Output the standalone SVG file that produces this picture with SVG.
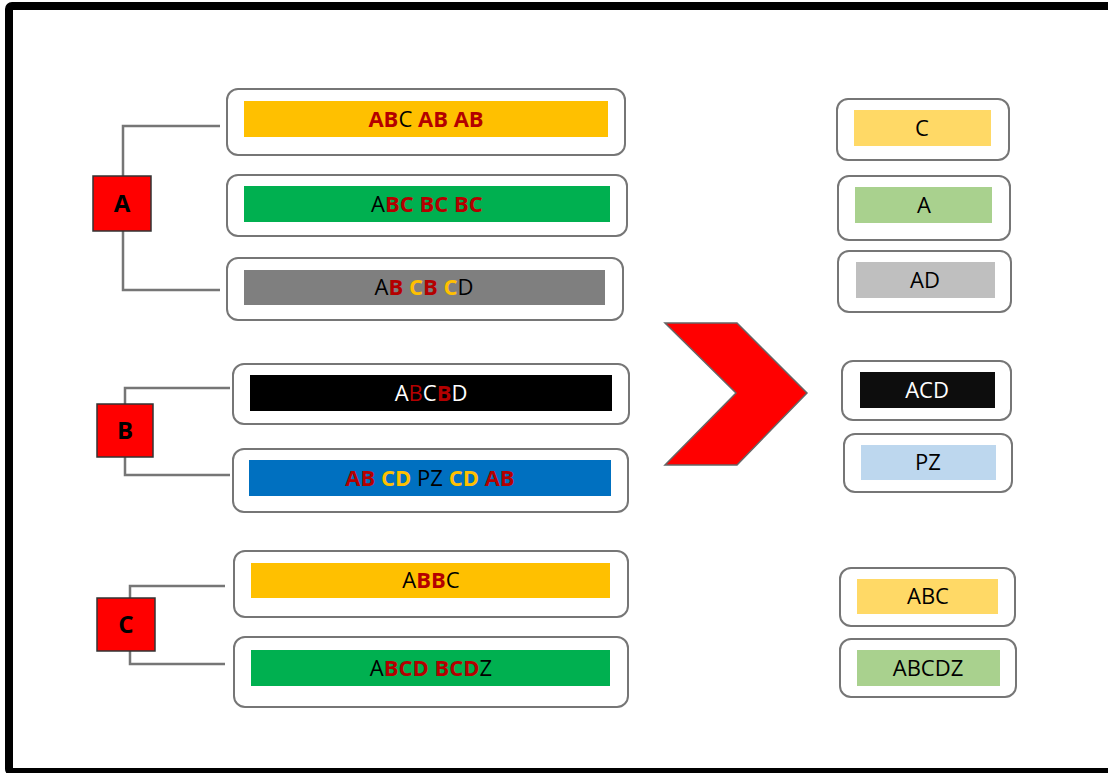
<svg xmlns="http://www.w3.org/2000/svg" width="1108" height="773" viewBox="0 0 1108 773">
<style>
.frame{fill:#fff;stroke:#000;stroke-width:8}
.card{fill:#fff;stroke:#767676;stroke-width:2}
.key{fill:#ff0000;stroke:#333;stroke-width:1.5}
.conn{fill:none;stroke:#767676;stroke-width:2.5}
.t{font-family:"Open Sans","Noto Sans","Liberation Sans",sans-serif;font-size:22px;text-anchor:middle}
.k{font-family:"Open Sans","Noto Sans","Liberation Sans",sans-serif;font-size:24px;font-weight:bold;text-anchor:middle;fill:#000}
.r{fill:#b40000;font-weight:bold}
.g{fill:#ffc000;font-weight:bold}
.bk{fill:#000}
.w{fill:#fff}
</style>
<rect class="frame" x="9" y="6" width="1130" height="766" rx="3"/>
<g id="connectors">
<polyline class="conn" points="220,126 123,126 123,290 220,290"/>
<polyline class="conn" points="230,388 125,388 125,475 230,475"/>
<polyline class="conn" points="225,586 130,586 130,664 225,664"/>
</g>
<g id="keyA"><rect class="key" x="93" y="176" width="58" height="55"/><text class="k" x="122" y="212">A</text></g>
<g id="keyB"><rect class="key" x="97" y="404" width="56" height="53"/><text class="k" x="125" y="439">B</text></g>
<g id="keyC"><rect class="key" x="97" y="598" width="58" height="53"/><text class="k" x="126" y="633">C</text></g>
<g id="a1"><rect class="card" x="227" y="89" width="398" height="66" rx="11"/><rect x="244" y="101" width="364" height="36" fill="#ffc000"/>
<text class="t" x="426" y="127"><tspan class="r">AB</tspan><tspan class="bk">C </tspan><tspan class="r">AB AB</tspan></text></g>
<g id="a2"><rect class="card" x="227" y="175" width="400" height="61" rx="11"/><rect x="244" y="186" width="366" height="36" fill="#00b050"/>
<text class="t" x="427" y="212"><tspan class="bk">A</tspan><tspan class="r">BC BC BC</tspan></text></g>
<g id="a3"><rect class="card" x="227" y="258" width="396" height="62" rx="11"/><rect x="244" y="270" width="361" height="35" fill="#7f7f7f"/>
<text class="t" x="424" y="295"><tspan class="bk">A</tspan><tspan class="r">B </tspan><tspan class="g">C</tspan><tspan class="r">B </tspan><tspan class="g">C</tspan><tspan class="bk">D</tspan></text></g>
<g id="b1"><rect class="card" x="233" y="364" width="396" height="60" rx="11"/><rect x="250" y="375" width="362" height="36" fill="#000"/>
<text class="t" x="431" y="401"><tspan class="w">A</tspan><tspan fill="#b40000">B</tspan><tspan class="w">C</tspan><tspan class="r">B</tspan><tspan class="w">D</tspan></text></g>
<g id="b2"><rect class="card" x="233" y="449" width="395" height="63" rx="11"/><rect x="249" y="460" width="362" height="36" fill="#0070c0"/>
<text class="t" x="430" y="486"><tspan class="r">AB </tspan><tspan class="g">CD </tspan><tspan class="bk">PZ </tspan><tspan class="g">CD </tspan><tspan class="r">AB</tspan></text></g>
<g id="c1"><rect class="card" x="234" y="551" width="394" height="66" rx="11"/><rect x="251" y="563" width="359" height="35" fill="#ffc000"/>
<text class="t" x="431" y="588"><tspan class="bk">A</tspan><tspan class="r">BB</tspan><tspan class="bk">C</tspan></text></g>
<g id="c2"><rect class="card" x="234" y="637" width="394" height="70" rx="11"/><rect x="251" y="650" width="359" height="36" fill="#00b050"/>
<text class="t" x="431" y="676"><tspan class="bk">A</tspan><tspan class="r">BCD BCD</tspan><tspan class="bk">Z</tspan></text></g>
<g id="arrow"><polygon points="665,323 737,323 807,393 737,465 665,465 736,393" fill="#ff0000" stroke="#666" stroke-width="1.5"/></g>
<g id="rC"><rect class="card" x="837" y="99" width="172" height="61" rx="11"/><rect x="854" y="110" width="137" height="36" fill="#ffd966"/><text class="t bk" x="922" y="136">C</text></g>
<g id="rA"><rect class="card" x="838" y="176" width="172" height="64" rx="11"/><rect x="855" y="187" width="137" height="36" fill="#a9d18e"/><text class="t bk" x="924" y="213">A</text></g>
<g id="rAD"><rect class="card" x="838" y="251" width="173" height="61" rx="11"/><rect x="856" y="262" width="139" height="36" fill="#bfbfbf"/><text class="t bk" x="925" y="288">AD</text></g>
<g id="rACD"><rect class="card" x="842" y="361" width="169" height="59" rx="11"/><rect x="860" y="372" width="135" height="36" fill="#0d0d0d"/><text class="t w" x="927" y="398">ACD</text></g>
<g id="rPZ"><rect class="card" x="844" y="434" width="168" height="58" rx="11"/><rect x="861" y="445" width="135" height="35" fill="#bdd7ee"/><text class="t bk" x="928" y="470">PZ</text></g>
<g id="rABC"><rect class="card" x="840" y="568" width="175" height="58" rx="11"/><rect x="857" y="579" width="141" height="35" fill="#ffd966"/><text class="t bk" x="928" y="604">ABC</text></g>
<g id="rABCDZ"><rect class="card" x="840" y="639" width="176" height="58" rx="11"/><rect x="857" y="650" width="143" height="36" fill="#a9d18e"/><text class="t bk" x="928" y="676">ABCDZ</text></g>
</svg>
